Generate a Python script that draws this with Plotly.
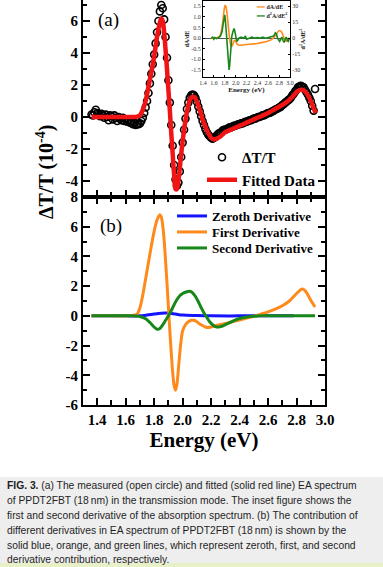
import plotly.graph_objects as go

W, H = 383, 567
SERIF = "Liberation Serif"
SANS = "Liberation Sans"

# ---------------- panel (a): measured (circles) and fitted EA spectrum ----------------
circ_x = [1.36, 1.37, 1.38, 1.39, 1.40, 1.41, 1.42, 1.43, 1.44, 1.45,
          1.46, 1.47, 1.48, 1.49, 1.50, 1.51, 1.52, 1.53, 1.54, 1.55,
          1.56, 1.57, 1.58, 1.59, 1.60, 1.61, 1.62, 1.63, 1.64, 1.65,
          1.66, 1.67, 1.68, 1.69, 1.70, 1.71, 1.72, 1.73, 1.74, 1.75,
          1.76, 1.77, 1.78, 1.79, 1.80, 1.81, 1.82, 1.83, 1.84, 1.85,
          1.86, 1.87, 1.88, 1.89, 1.90, 1.91, 1.92, 1.93, 1.94, 1.95,
          1.96, 1.97, 1.98, 1.99, 2.00, 2.01, 2.02, 2.03, 2.04, 2.05,
          2.06, 2.07, 2.08, 2.09, 2.10, 2.11, 2.12, 2.13, 2.14, 2.15,
          2.16, 2.17, 2.18, 2.19, 2.20, 2.21, 2.22, 2.23, 2.24, 2.25,
          2.26, 2.27, 2.28, 2.29, 2.30, 2.31, 2.32, 2.33, 2.34, 2.35,
          2.36, 2.37, 2.38, 2.39, 2.40, 2.41, 2.42, 2.43, 2.44, 2.45,
          2.46, 2.47, 2.48, 2.49, 2.50, 2.51, 2.52, 2.53, 2.54, 2.55,
          2.56, 2.57, 2.58, 2.59, 2.60, 2.61, 2.62, 2.63, 2.64, 2.65,
          2.66, 2.67, 2.68, 2.69, 2.70, 2.71, 2.72, 2.73, 2.74, 2.75,
          2.76, 2.77, 2.78, 2.79, 2.80, 2.81, 2.82, 2.83, 2.84, 2.85,
          2.86, 2.87, 2.88, 2.89, 2.90, 2.91, 2.92, 2.93]
circ_y = [0.15, 0.10, 0.30, 0.45, 0.25, 0.20, 0.05, 0.20, 0.10, -0.05,
          0.15, 0.00, -0.20, 0.10, 0.05, -0.15, 0.10, -0.05, -0.25, 0.00,
          -0.10, -0.20, -0.05, -0.25, -0.15, -0.30, -0.20, -0.35, -0.30, -0.45,
          -0.35, -0.50, -0.45, -0.45, -0.40, -0.25, -0.05, 0.25, 0.60, 1.00,
          1.50, 2.10, 2.70, 3.30, 3.90, 4.60, 5.30, 6.00, 6.60, 7.00,
          6.80, 6.10, 5.00, 3.70, 2.30, 0.90, -0.50, -1.80, -3.00, -3.90,
          -4.30, -4.10, -3.40, -2.50, -1.60, -0.80, -0.10, 0.50, 0.90, 1.20,
          1.35, 1.40, 1.35, 1.20, 0.95, 0.65, 0.35, 0.05, -0.25, -0.50,
          -0.75, -0.95, -1.10, -1.20, -1.30, -1.35, -1.30, -1.25, -1.15, -1.05,
          -1.00, -0.95, -0.85, -0.80, -0.80, -0.75, -0.70, -0.65, -0.65, -0.60,
          -0.55, -0.55, -0.50, -0.45, -0.45, -0.40, -0.40, -0.35, -0.30, -0.30,
          -0.25, -0.20, -0.20, -0.15, -0.10, -0.10, -0.05, 0.00, 0.00, 0.05,
          0.10, 0.10, 0.15, 0.20, 0.25, 0.25, 0.30, 0.35, 0.40, 0.45,
          0.50, 0.55, 0.60, 0.65, 0.75, 0.80, 0.90, 0.95, 1.05, 1.10,
          1.20, 1.35, 1.45, 1.60, 1.70, 1.85, 1.90, 1.95, 1.90, 1.85,
          1.70, 1.55, 1.40, 1.20, 1.00, 0.70, 0.40, 1.75]

fit_x = [1.36, 1.40, 1.45, 1.50, 1.55, 1.60, 1.65, 1.68, 1.70, 1.72,
         1.74, 1.76, 1.78, 1.80, 1.82, 1.84, 1.85, 1.86, 1.87, 1.88,
         1.89, 1.90, 1.91, 1.92, 1.93, 1.94, 1.95, 1.96, 1.97, 1.98,
         1.99, 2.00, 2.01, 2.02, 2.03, 2.04, 2.05, 2.06, 2.07, 2.08,
         2.09, 2.10, 2.12, 2.14, 2.16, 2.18, 2.20, 2.22, 2.24, 2.26,
         2.28, 2.30, 2.35, 2.40, 2.45, 2.50, 2.55, 2.60, 2.65, 2.70,
         2.74, 2.77, 2.80, 2.82, 2.84, 2.86, 2.88, 2.90, 2.92, 2.935]
fit_y = [0.00, 0.00, 0.00, 0.00, 0.00, 0.00, 0.00, 0.02, 0.10, 0.45,
         1.00, 1.90, 2.80, 3.80, 5.00, 5.90, 6.15, 6.00, 5.30, 4.20,
         3.00, 1.70, 0.40, -1.00, -2.30, -3.60, -4.50, -4.50, -4.00, -3.20,
         -2.30, -1.50, -0.80, -0.20, 0.30, 0.75, 1.05, 1.20, 1.27, 1.25,
         1.15, 0.95, 0.45, -0.15, -0.60, -1.00, -1.30, -1.40, -1.35, -1.25,
         -1.10, -0.95, -0.75, -0.55, -0.35, -0.15, 0.05, 0.25, 0.50, 0.75,
         1.00, 1.25, 1.55, 1.68, 1.70, 1.60, 1.35, 1.00, 0.55, 0.25]

# ---------------- panel (b): derivative contributions ----------------
zero_x = [1.36, 1.50, 1.60, 1.70, 1.75, 1.80, 1.85, 1.88, 1.90, 1.95,
          2.00, 2.10, 2.20, 2.40, 2.60, 2.78]
zero_y = [0.00, 0.00, 0.00, 0.00, 0.05, 0.12, 0.18, 0.20, 0.19, 0.12,
          0.05, 0.02, 0.00, 0.00, 0.00, 0.00]

first_x = [1.36, 1.50, 1.60, 1.65, 1.68, 1.70, 1.72, 1.74, 1.76, 1.78,
           1.80, 1.82, 1.84, 1.85, 1.86, 1.87, 1.88, 1.89, 1.90, 1.91,
           1.92, 1.93, 1.94, 1.95, 1.96, 1.97, 1.98, 1.99, 2.00, 2.02,
           2.04, 2.06, 2.08, 2.10, 2.12, 2.15, 2.17, 2.20, 2.25, 2.30,
           2.35, 2.40, 2.45, 2.50, 2.55, 2.60, 2.65, 2.70, 2.75, 2.78,
           2.81, 2.84, 2.86, 2.88, 2.90, 2.92, 2.93]
first_y = [0.00, 0.00, 0.00, 0.03, 0.12, 0.55, 1.40, 2.50, 3.60, 4.70,
           5.70, 6.45, 6.80, 6.65, 6.10, 5.10, 3.70, 2.20, 0.60, -1.00,
           -2.50, -3.80, -4.70, -5.00, -4.60, -3.60, -2.50, -1.60, -1.00, -0.60,
           -0.40, -0.30, -0.30, -0.40, -0.55, -0.70, -0.78, -0.75, -0.62, -0.52,
           -0.40, -0.28, -0.15, -0.03, 0.12, 0.27, 0.45, 0.68, 1.00, 1.30,
           1.60, 1.80, 1.70, 1.40, 1.05, 0.75, 0.60]

second_x = [1.36, 1.50, 1.65, 1.70, 1.74, 1.77, 1.80, 1.82, 1.84, 1.86,
            1.88, 1.90, 1.92, 1.94, 1.96, 1.98, 2.00, 2.03, 2.05, 2.07,
            2.09, 2.11, 2.13, 2.15, 2.17, 2.19, 2.21, 2.23, 2.25, 2.28,
            2.32, 2.36, 2.40, 2.45, 2.50, 2.55, 2.70, 2.93]
second_y = [0.00, 0.00, 0.00, -0.05, -0.20, -0.45, -0.75, -0.90, -0.85, -0.60,
            -0.30, 0.00, 0.35, 0.75, 1.10, 1.35, 1.50, 1.62, 1.65, 1.55,
            1.30, 0.95, 0.55, 0.20, -0.10, -0.40, -0.60, -0.72, -0.75, -0.68,
            -0.50, -0.32, -0.18, -0.08, -0.02, 0.00, 0.00, 0.00]

# ---------------- inset: first and second derivative of absorption ----------------
ins1_x = [1.55, 1.60, 1.65, 1.70, 1.73, 1.76, 1.78, 1.80, 1.81, 1.82,
          1.84, 1.86, 1.88, 1.90, 1.92, 1.94, 1.96, 1.98, 2.00, 2.02,
          2.05, 2.10, 2.20, 2.30, 2.40, 2.50, 2.60, 2.65, 2.70, 2.74,
          2.78, 2.81, 2.84, 2.87, 2.90, 2.93, 2.96, 2.99]
ins1_y = [0.00, 0.00, 0.02, 0.08, 0.25, 0.70, 1.15, 1.50, 1.55, 1.50,
          1.20, 0.70, 0.20, -0.20, -0.40, -0.35, -0.20, -0.10, -0.15, -0.25,
          -0.32, -0.33, -0.30, -0.28, -0.25, -0.20, -0.13, -0.08, 0.02, 0.15,
          0.30, 0.36, 0.30, 0.15, -0.05, -0.15, -0.10, 0.02]

ins2_x = [1.55, 1.58, 1.60, 1.62, 1.65, 1.68, 1.70, 1.72, 1.75, 1.77,
          1.79, 1.80, 1.81, 1.83, 1.85, 1.87, 1.88, 1.89, 1.91, 1.93,
          1.95, 1.97, 1.98, 2.00, 2.02, 2.04, 2.06, 2.10, 2.15, 2.18,
          2.20, 2.25, 2.30, 2.35, 2.40, 2.45, 2.50, 2.55, 2.60, 2.65,
          2.70, 2.73, 2.75, 2.77, 2.79, 2.81, 2.83, 2.85, 2.87, 2.89,
          2.91, 2.93, 2.95, 2.97, 2.99]
ins2_y = [0, 1, -1, 0.5, -0.5, 0, 1, 2, 6, 13,
          20, 22, 18, 5, -12, -27, -30, -26, -10, 2,
          6, 9, 8, 2, -3, -2, 0, 1, 0, 2,
          -1, 0, 1, 0, 0.5, 0, 1, 0, 0.5, 1,
          2, 5, 4, 0, -2, -3, -1, 1, -2, -4,
          -1, 1, -2, -3, 0]

# ---------------- tick labels ----------------
x_tickvals = [1.4, 1.6, 1.8, 2.0, 2.2, 2.4, 2.6, 2.8, 3.0]
x_ticktext = ["1.4", "1.6", "1.8", "2.0", "2.2", "2.4", "2.6", "2.8", "3.0"]
ya_tickvals = [-4, -2, 0, 2, 4, 6]
ya_ticktext = ["-4", "-2", "0", "2", "4", "6"]
yb_tickvals = [-6, -4, -2, 0, 2, 4, 6, 8]
yb_ticktext = ["-6", "-4", "-2", "0", "2", "4", "6", "8"]
in_y1_vals = [-1.5, -1.0, -0.5, 0.0, 0.5, 1.0, 1.5]
in_y1_text = ["-1.5", "-1.0", "-0.5", "0.0", "0.5", "1.0", "1.5"]
in_y2_vals = [-30, -15, 0, 15, 30]
in_y2_text = ["-30", "-15", "0", "15", "30"]

caption_lines = [
    "<b>FIG. 3.</b> (a) The measured (open circle) and fitted (solid red line) EA spectrum",
    "of PPDT2FBT (18\u2009nm) in the transmission mode. The inset figure shows the",
    "first and second derivative of the absorption spectrum. (b) The contribution of",
    "different derivatives in EA spectrum of PPDT2FBT (18\u2009nm) is shown by the",
    "solid blue, orange, and green lines, which represent zeroth, first, and second",
    "derivative contribution, respectively.",
]

ORANGE = "#ff8a1c"
GREEN = "#17871a"
BLUE = "#1414ff"
RED = "#f01414"


def px_x(p):
    return p / W


def px_y(p):
    return 1 - p / H


fig = go.Figure()

fig.add_trace(go.Scatter(x=circ_x, y=circ_y, mode="markers", name="\u0394T/T",
                         xaxis="x2", yaxis="y2", legend="legend",
                         marker=dict(symbol="circle-open", size=7, color="black",
                                     line=dict(width=1.6, color="black"))))
fig.add_trace(go.Scatter(x=fit_x, y=fit_y, mode="lines", name="Fitted Data",
                         xaxis="x2", yaxis="y2", legend="legend",
                         line=dict(color=RED, width=4.5, shape="spline", smoothing=0.8)))

fig.add_trace(go.Scatter(x=zero_x, y=zero_y, mode="lines", name="Zeroth Derivative",
                         xaxis="x", yaxis="y", legend="legend2",
                         line=dict(color=BLUE, width=3, shape="spline")))
fig.add_trace(go.Scatter(x=first_x, y=first_y, mode="lines", name="First Derivative",
                         xaxis="x", yaxis="y", legend="legend3",
                         line=dict(color=ORANGE, width=3, shape="spline", smoothing=0.8)))
fig.add_trace(go.Scatter(x=second_x, y=second_y, mode="lines", name="Second Derivative",
                         xaxis="x", yaxis="y", legend="legend4",
                         line=dict(color=GREEN, width=3, shape="spline", smoothing=0.8)))

fig.add_trace(go.Scatter(x=ins1_x, y=ins1_y, mode="lines", name="dA/dE",
                         xaxis="x3", yaxis="y3", showlegend=False,
                         line=dict(color=ORANGE, width=1.6, shape="spline")))
fig.add_trace(go.Scatter(x=ins2_x, y=ins2_y, mode="lines", name="d\u00b2A/dE\u00b2",
                         xaxis="x3", yaxis="y4", showlegend=False,
                         line=dict(color=GREEN, width=1.6)))

tickfont = dict(family=SERIF, size=15, color="black", weight="bold")
x_dom = [px_x(83), px_x(325)]
common_x = dict(range=[1.3, 3.0], domain=x_dom, showline=True, linewidth=2, linecolor="black",
                ticks="inside", ticklen=7, tickwidth=1.5, tickcolor="black",
                tickvals=x_tickvals, ticktext=x_ticktext, showgrid=False, zeroline=False,
                automargin=False,
                minor=dict(tickmode="linear", tick0=1.3, dtick=0.1, ticks="inside",
                           ticklen=5, tickwidth=1.5, tickcolor="black"))
in_tickfont = dict(family=SERIF, size=6, color="#333")
leg_b_font = dict(family=SERIF, size=13, color="black", weight="bold")


def leg_b(ypix):
    return dict(x=px_x(172), y=px_y(ypix), xanchor="left", yanchor="middle",
                bgcolor="rgba(0,0,0,0)", borderwidth=0, font=leg_b_font)


fig.update_layout(
    width=W, height=H,
    margin=dict(l=0, r=0, t=0, b=0, autoexpand=False),
    paper_bgcolor="white", plot_bgcolor="white",
    xaxis=dict(**common_x, anchor="y", mirror="allticks", tickfont=tickfont,
               title=dict(text="Energy (eV)", standoff=5,
                          font=dict(family=SERIF, size=21, color="black", weight="bold"))),
    yaxis=dict(range=[-6, 8], domain=[px_y(405), px_y(197)], anchor="x",
               showline=True, linewidth=2, linecolor="black", mirror="allticks",
               ticks="inside", ticklen=7, tickwidth=1.5, tickcolor="black",
               tickvals=yb_tickvals, ticktext=yb_ticktext, tickfont=tickfont,
               showgrid=False, zeroline=False, automargin=False,
               minor=dict(tickmode="linear", tick0=0, dtick=1, ticks="inside",
                          ticklen=4, tickwidth=1.5, tickcolor="black")),
    xaxis2=dict(**common_x, anchor="y2", showticklabels=False),
    yaxis2=dict(range=[-5, 117 / 16], domain=[px_y(197), 1.0], anchor="x2",
                showline=True, linewidth=2, linecolor="black", mirror="allticks",
                ticks="inside", ticklen=7, tickwidth=1.5, tickcolor="black",
                tickvals=ya_tickvals, ticktext=ya_ticktext, tickfont=tickfont,
                showgrid=False, zeroline=False, automargin=False,
                minor=dict(tickmode="linear", tick0=0, dtick=1, ticks="inside",
                           ticklen=4, tickwidth=1.5, tickcolor="black")),
    xaxis3=dict(range=[1.4, 3.0], domain=[px_x(203), px_x(290)], anchor="y3",
                showline=True, linewidth=1, linecolor="black", mirror=True,
                ticks="inside", ticklen=2, tickwidth=0.8, tickcolor="black",
                tickvals=x_tickvals, ticktext=x_ticktext, tickfont=in_tickfont,
                showgrid=False, zeroline=False, automargin=False,
                title=dict(text="Energy (eV)", standoff=0,
                           font=dict(family=SERIF, size=7, color="#222", weight="bold"))),
    yaxis3=dict(range=[-1.83, 1.75], domain=[px_y(77), px_y(1)], anchor="x3",
                showline=True, linewidth=1, linecolor="black",
                ticks="inside", ticklen=2, tickwidth=0.8, tickcolor="black",
                tickvals=in_y1_vals, ticktext=in_y1_text, tickfont=in_tickfont,
                showgrid=False, zeroline=True, zerolinecolor="#555", zerolinewidth=1,
                automargin=False,
                title=dict(text="dA/dE", standoff=1,
                           font=dict(family=SERIF, size=6, color="#222", weight="bold"))),
    yaxis4=dict(range=[-36.6, 35], overlaying="y3", anchor="x3", side="right",
                showline=True, linewidth=1, linecolor="black",
                ticks="inside", ticklen=2, tickwidth=0.8, tickcolor="black",
                tickvals=in_y2_vals, ticktext=in_y2_text, tickfont=in_tickfont,
                showgrid=False, zeroline=False, automargin=False,
                title=dict(text="d<sup>2</sup>A/dE<sup>2</sup>", standoff=1,
                           font=dict(family=SERIF, size=6, color="#222", weight="bold"))),
    legend=dict(x=px_x(202), y=px_y(141), xanchor="left", yanchor="top",
                bgcolor="rgba(0,0,0,0)", borderwidth=0, tracegroupgap=0,
                font=dict(family=SERIF, size=15, color="black", weight="bold")),
    legend2=leg_b(216),
    legend3=leg_b(232),
    legend4=leg_b(248),
)

annotations = [
    dict(text="(a)", x=px_x(96), y=px_y(20), xref="paper", yref="paper",
         xanchor="left", yanchor="middle", showarrow=False,
         font=dict(family=SERIF, size=19, color="black")),
    dict(text="(b)", x=px_x(98), y=px_y(226), xref="paper", yref="paper",
         xanchor="left", yanchor="middle", showarrow=False,
         font=dict(family=SERIF, size=19, color="black")),
    dict(text="\u0394T/T (10<sup>-4</sup>)", x=px_x(45), y=px_y(172), xref="paper", yref="paper",
         xanchor="center", yanchor="middle", textangle=-90, showarrow=False,
         font=dict(family=SERIF, size=20, color="black", weight="bold")),
    dict(text=f"<span style='color:{ORANGE}'>\u2501\u2501</span> dA/dE",
         x=px_x(254), y=px_y(7), xref="paper", yref="paper", xanchor="left", yanchor="middle",
         showarrow=False, font=dict(family=SERIF, size=6, color="#222", weight="bold")),
    dict(text=f"<span style='color:{GREEN}'>\u2501\u2501</span> d<sup>2</sup>A/dE<sup>2</sup>",
         x=px_x(254), y=px_y(15), xref="paper", yref="paper", xanchor="left", yanchor="middle",
         showarrow=False, font=dict(family=SERIF, size=6, color="#222", weight="bold")),
]
cap_y = [485, 500, 515, 530, 545, 559]
for line, yy in zip(caption_lines, cap_y):
    annotations.append(dict(text=line, x=px_x(5), y=px_y(yy), xref="paper", yref="paper",
                            xanchor="left", yanchor="middle", showarrow=False,
                            font=dict(family=SANS, size=10.3, color="#1e1e1e")))
fig.update_layout(annotations=annotations)

fig.update_layout(shapes=[
    dict(type="rect", xref="paper", yref="paper", x0=0, x1=1, y0=px_y(563), y1=px_y(477),
         fillcolor="#eeeeee", line=dict(width=0), layer="below"),
    dict(type="rect", xref="paper", yref="paper", x0=0, x1=1, y0=0, y1=px_y(563),
         fillcolor="#e8f0c8", line=dict(width=0), layer="below"),
])

fig.write_html("out.html", config={"displayModeBar": False},
               post_script="document.body.style.margin='0';document.body.style.padding='0';")
